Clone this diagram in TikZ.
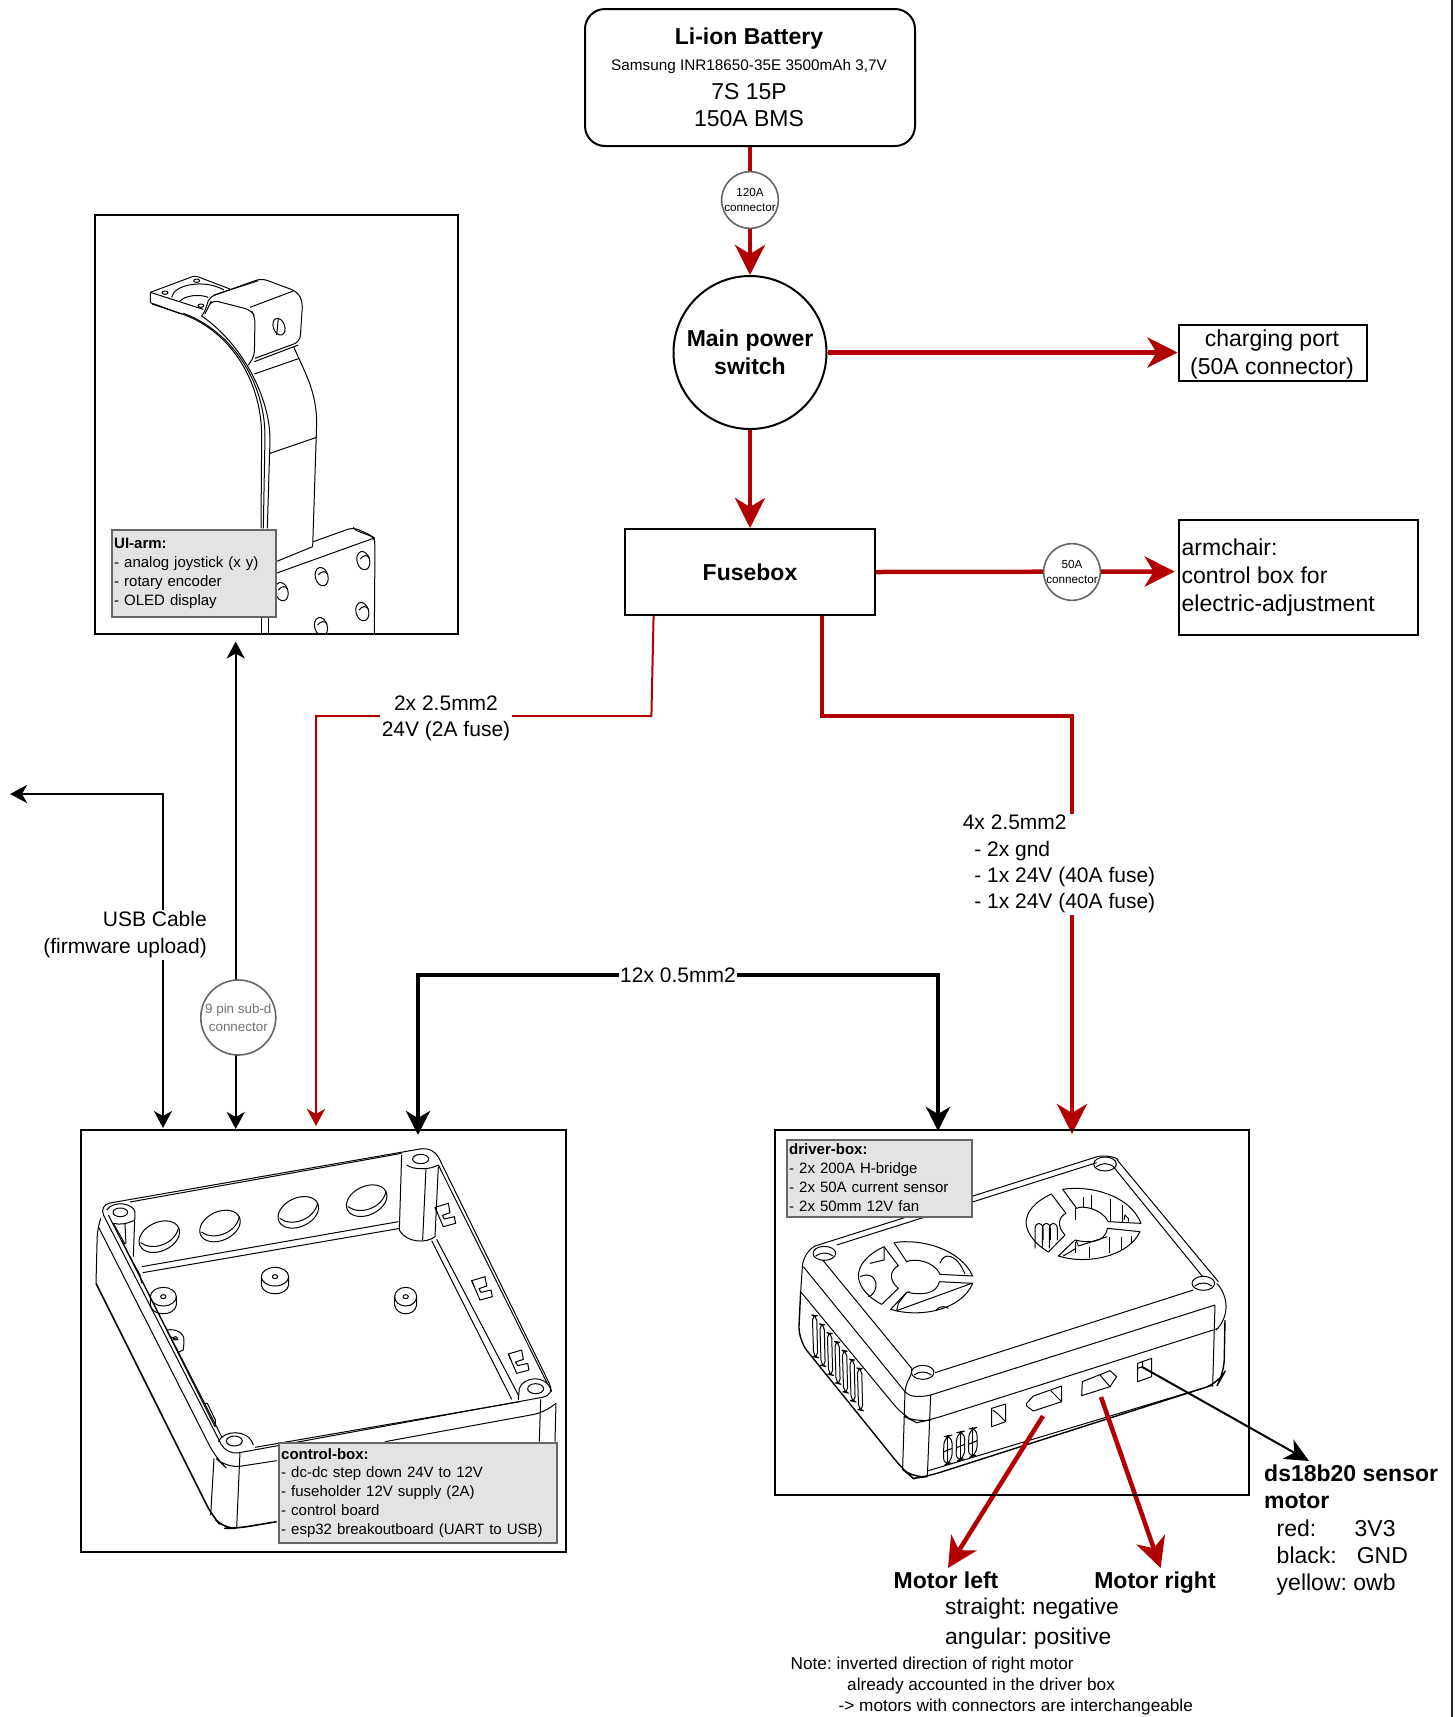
\documentclass[tikz,border=0pt]{standalone}
\usepackage{fontspec}
\setmainfont{Liberation Sans}
\usetikzlibrary{arrows.meta}
\definecolor{cred}{HTML}{B20000}
\definecolor{lbl}{HTML}{E3E3E3}
\definecolor{lbldraw}{HTML}{666666}
\pgfdeclarelayer{art}
\pgfdeclarelayer{conn}
\pgfsetlayers{art,conn,main}
\newcommand{\fsz}[2]{\fontsize{#1pt}{#2pt}\selectfont}
\newcommand{\elli}[5]{\draw[rotate around={#5:(#1,#2)}] (#1,#2) ellipse [x radius=#3,y radius=#4];}
\newcommand{\up}[2]{\raisebox{#1pt}{#2}}
\tikzset{
  boxed/.style={draw=black,line width=2pt,rectangle,inner sep=0pt},
  conncircle/.style={circle,draw=lbldraw,line width=1.6pt,fill=white,inner sep=0pt,align=center},
  graylabel/.style={rectangle,draw=lbldraw,line width=2pt,fill=lbl,anchor=north west,align=left,inner sep=2.5pt,font=\fsz{15}{18.8}},
  wirelabel/.style={fill=white,inner sep=1.5pt,align=center,font=\fsz{21}{26.3}},
  plaintext/.style={inner sep=0pt,align=left,anchor=west},
  redthick/.style={draw=cred,line width=4.5pt,-{Stealth[length=30pt,width=30pt,inset=9pt]}},
  redthin/.style={draw=cred,line width=2pt,-{Stealth[length=17pt,width=18pt,inset=5pt]}},
  blackthin/.style={draw=black,line width=2pt,{Stealth[length=17pt,width=18pt,inset=5pt]}-{Stealth[length=17pt,width=18pt,inset=5pt]}},
  blackthick/.style={draw=black,line width=4.5pt,{Stealth[length=24pt,width=24pt,inset=7pt]}-{Stealth[length=24pt,width=24pt,inset=7pt]}},
  arrowonly/.style={draw=black,line width=2pt,-{Stealth[length=24pt,width=22pt,inset=7pt]}},
  artline/.style={draw=black,line width=1pt,line join=round},
}
\begin{document}
\frenchspacing
\begin{tikzpicture}[x=1pt,y=-1pt]
\useasboundingbox (0,0) rectangle (1455,1717);
\begin{pgfonlayer}{art}
\fill[white] (0,0) rectangle (1455,1717);
\coordinate (edgetop) at (1452,0);
\coordinate (edgebot) at (1452,1717);
\draw[line width=2pt,draw=black!85] (edgetop) -- (edgebot);

%% UI arm art (zoom coordinates)
\begin{scope}
\clip (95,215) rectangle (458,634);
\begin{scope}[shift={(90,210)},x=0.33333pt,y=-0.33333pt,artline,every path/.append style={artline}]
\draw[rounded corners=3pt] (181,247) -- (315,197) -- (420,237);
\draw (181,247) -- (340,298);
\draw (181,247) -- (181,278) -- (270,310);
\draw (186,282) -- (275,312);
\draw (245,262) .. controls (250,225) and (340,205) .. (402,240);
\draw (268,275) .. controls (285,255) and (330,252) .. (355,262);
\elli{225}{248}{9}{5}{0}\elli{320}{212}{9}{5}{0}\elli{333}{287}{9}{5}{0}
\draw (270,310) .. controls (410,355) and (515,500) .. (515,680) -- (513,955);
\draw (280,310) .. controls (420,360) and (525,510) .. (525,680) -- (520,955);
\draw (335,318) .. controls (455,400) and (540,560) .. (540,690) -- (532,955);
\draw[rounded corners=6pt] (335,318) -- (348,300) -- (356,262) -- (515,205) -- (622,245) -- (638,275) -- (630,395) -- (495,445);
\draw[rounded corners=6pt] (345,312) -- (355,290) -- (366,270) -- (483,300) -- (495,320) -- (493,440) -- (475,465);
\draw (480,292) -- (610,243);
\draw (372,255) -- (505,212);
\draw (493,455) -- (625,405);
\draw (493,492) -- (628,445);
\draw (612,412) .. controls (640,480) and (680,540) .. (680,640) -- (668,1010);
\draw (540,730) -- (680,682);
\draw (558,1055) -- (668,1010);
\draw[rounded corners=6pt] (670,995) -- (790,952) -- (852,980) -- (855,1000) -- (853,1272);
\draw (790,952) -- (800,962) -- (852,982);
\draw (558,1090) -- (850,985);
\draw (515,1218) -- (515,1272); \draw (537,1218) -- (537,1272);
\draw[rotate around={20:(567,350)}] (567,350) ellipse [x radius=17,y radius=26];
\draw (565,325) -- (560,375);
\foreach \hx/\hy in {820/1052,695/1100,575/1145,817/1205,693/1250}{
  \elli{\hx}{\hy}{19}{28}{15}
  \draw (\hx-10,\hy-5) .. controls (\hx,\hy-18) and (\hx+12,\hy-18) .. (\hx+18,\hy-8);
}
\end{scope}
\end{scope}

%% control box art
\begin{scope}[shift={(70,1120)},x=0.33333pt,y=-0.33333pt,every path/.append style={artline}]
\draw[rounded corners=12pt] (85,255) -- (1090,80) -- (1455,825) -- (470,1005) -- cycle;
\draw (180,246) -- (995,100);
\draw (1105,135) -- (1432,790);
\draw (555,982) -- (1350,845);
\draw (115,285) -- (455,950);
\draw[rounded corners=8pt] (92,295) -- (82,330) -- (78,490);
\draw[line width=1.6pt,rounded corners=12pt] (78,490) -- (425,1185) -- (460,1225) -- (500,1225) -- (620,1205);
\draw[rounded corners=14pt] (85,320) -- (438,1015) -- (470,1045) -- (620,1022);
\draw[rounded corners=10pt] (945,965) -- (1420,878) -- (1458,850);
\draw (1458,850) -- (1455,965);
\draw (1412,838) -- (1408,965);
\draw (432,1015) -- (422,1185);
\draw (510,996) -- (500,1225);
% corner pillars
\elli{151}{277}{22}{13}{0}
\draw (110,270) .. controls (130,240) and (190,250) .. (195,275) -- (190,410);
\draw (130,310) -- (165,372) ;
\draw (165,312) -- (168,372);
\draw (130,310) .. controls (150,315) and (170,312) .. (195,300);
\elli{1397}{806}{24}{15}{0}
\draw (1345,840) -- (1348,805) .. controls (1360,770) and (1430,760) .. (1445,815);
\elli{493}{963}{24}{15}{0}
\draw (445,965) .. controls (460,930) and (535,925) .. (550,975);
\elli{1052}{117}{24}{14}{0}
\draw (995,105) -- (988,330) .. controls (1010,370) and (1070,370) .. (1095,350) -- (1105,140);
\draw (1068,145) -- (1058,360);
\draw (1010,135) .. controls (1030,150) and (1080,150) .. (1105,135);
% wall/floor
\draw (215,440) -- (985,305);
\draw (218,458) -- (990,325);
\draw (180,410) -- (210,465) -- (215,490);
\draw (1085,362) -- (1325,838);
\draw (1100,358) -- (1345,825);
\draw (155,360) -- (435,920);
\draw (400,850) -- (412,850) -- (436,900) -- (436,920);
% holes
\foreach \hx/\hy in {268/350,450/318,685/277,890/242}{
  \elli{\hx}{\hy}{64}{43}{25}
  \draw (\hx-56,\hy+18) .. controls (\hx-20,\hy+45) and (\hx+48,\hy+22) .. (\hx+58,\hy-28);
}
% standoffs
\foreach \hx/\hy/\hr in {615/470/41,280/530/39,1007/530/33}{
  \draw (\hx-\hr,\hy) -- (\hx-\hr,\hy+25) .. controls (\hx-\hr+5,\hy+60) and (\hx+\hr-5,\hy+60) .. (\hx+\hr,\hy+25) -- (\hx+\hr,\hy);
  \elli{\hx}{\hy}{\hr}{28}{0}
  \elli{\hx}{\hy}{8}{6}{0}
}
\draw (290,630) .. controls (320,625) and (345,640) .. (342,665) -- (340,690) -- (322,698);
\draw (300,650) -- (325,660);
\elli{316}{655}{6}{5}{0}
% clips
\foreach \cx/\cy in {1095/250,1205/470,1315/690}{
  \draw (\cx,\cy+12) -- (\cx+40,\cy) -- (\cx+45,\cy+28) -- (\cx+22,\cy+36) -- (\cx+28,\cy+47) -- (\cx+58,\cy+40) -- (\cx+62,\cy+60) -- (\cx+25,\cy+70) -- cycle;
  \draw (\cx,\cy+12) -- (\cx+8,\cy+30);
}
\end{scope}

%% driver box art
\begin{scope}[shift={(770,1120)},x=0.33333pt,y=-0.33333pt,every path/.append style={artline}]
\draw (135,378) -- (975,112);
\draw (200,375) -- (980,128);
\draw (1040,118) -- (1345,485);
\draw (1030,140) -- (1298,470);
\draw (158,420) -- (425,745);
\draw (100,440) -- (405,815);
\draw (495,758) -- (1270,510);
\draw (482,825) -- (1335,555);
\draw[rounded corners=12pt] (135,378) -- (100,400) -- (92,515) ;
\draw[rounded corners=12pt] (975,112) -- (1010,100) -- (1045,118);
\draw[rounded corners=12pt] (1340,490) -- (1368,520) -- (1368,600) -- (1338,630);
\draw[rounded corners=14pt] (92,515) -- (400,888) -- (440,908) -- (480,900) -- (1345,625);
\draw[line width=1.4pt,rounded corners=14pt] (92,515) -- (85,660) -- (400,1050) -- (430,1075) -- (470,1070) -- (1345,790) -- (1362,760) -- (1365,600);
\draw (475,1052) -- (1330,795);
\draw (405,815) -- (398,1045);
\draw (482,825) -- (472,1070);
\draw (1335,555) -- (1328,800);
\draw (405,815) .. controls (410,775) and (430,765) .. (425,745);
\draw (405,815) .. controls (420,835) and (460,830) .. (482,825);
\foreach \hx/\hy in {163/400,1005/132,1300/490,458/757}{
  \elli{\hx}{\hy}{34}{21}{0}
  \draw (\hx-26,\hy+8) .. controls (\hx-10,\hy-4) and (\hx+10,\hy-4) .. (\hx+26,\hy+8);
}
% fan 1
\draw (342,380) .. controls (290,405) and (265,435) .. (265,470) .. controls (268,505) and (300,535) .. (335,553) -- (385,505) .. controls (355,480) and (360,450) .. (385,437) -- cycle;
\draw (372,368) .. controls (450,355) and (570,385) .. (608,468) -- (510,463) .. controls (490,420) and (430,415) .. (410,425) -- cycle;
\draw (508,485) -- (608,490) .. controls (575,570) and (450,595) .. (362,568) -- (410,517) .. controls (450,525) and (500,525) .. (508,485);
\draw (300,430) -- (342,420) -- (342,380);
\draw (270,470) .. controls (300,455) and (320,475) .. (318,500) .. controls (315,520) and (300,530) .. (295,530);
\draw (510,430) .. controls (520,395) and (560,400) .. (585,462);
\draw (380,572) -- (605,490);
\draw (420,515) -- (410,517) -- (385,550) -- (380,572);
\draw (498,570) .. controls (510,555) and (530,560) .. (535,565);
% fan 2
\draw (844,222) .. controls (795,245) and (768,275) .. (768,310) .. controls (772,345) and (800,375) .. (835,396) -- (885,345) .. controls (860,320) and (865,290) .. (888,280) -- cycle;
\draw (878,208) .. controls (960,195) and (1080,225) .. (1113,310) -- (1015,305) .. controls (995,265) and (935,255) .. (920,265) -- cycle;
\draw (1012,325) -- (1110,335) .. controls (1075,410) and (950,435) .. (865,408) -- (915,360) .. controls (955,370) and (1005,370) .. (1012,325);
\foreach \sx in {795,817,838}{\draw (\sx,385) -- (\sx,325) .. controls (\sx+2,305) and (\sx+22,305) .. (\sx+24,325) -- (\sx+24,360);}
\foreach \sx/\st/\sb in {915/265/300,940/232/265,965/225/265,1022/238/305,1058/255/305}{\draw (\sx,\st) -- (\sx,\sb);}
\foreach \sx/\st/\sb in {915/365/400,958/380/415,1018/350/400,1055/350/390,1085/348/370}{\draw (\sx,\st) -- (\sx,\sb);}
\draw (918,360) -- (925,378) -- (1012,350);
\draw (880,408) -- (918,385);
\draw (1062,300) -- (1065,285) -- (1075,295) -- (1075,305);
% side slits
\foreach \i in {0,...,6}{
  \pgfmathsetmacro{\sa}{127+22.5*\i}
  \pgfmathsetmacro{\sb}{585+26.5*\i}
  \draw[rounded corners=5pt] (\sa,\sb) -- (\sa+13,\sb+2) -- (\sa+16,\sb+128) -- (\sa+4,\sb+125) -- cycle;
}
% front slits
\foreach \sa/\sb in {520/945,558/933,595/922}{
  \draw[rounded corners=8pt] (\sa+2,\sb+5) -- (\sa+26,\sb) -- (\sa+26,\sb+82) -- (\sa,\sb+92) -- cycle;
  \draw (\sa+2,\sb+50) -- (\sa+26,\sb+40);
  \draw (\sa+13,\sb) -- (\sa+13,\sb+85);
}
% ports
\draw (665,865) -- (707,852) -- (707,905) -- (665,920) -- cycle;
\draw (668,870) -- (682,880) -- (707,905);
\draw (770,850) -- (790,828) -- (875,798) -- (875,845) -- (790,873) -- (770,858) -- cycle;
\draw (842,812) -- (875,845);
\draw (937,785) -- (1020,752) -- (1040,770) -- (1020,800) -- (935,827) -- cycle;
\draw (990,765) -- (1020,800);
\draw (1103,730) -- (1145,715) -- (1145,770) -- (1103,785) -- cycle;
\draw (1103,745) -- (1118,740) -- (1118,725);
\end{scope}
\end{pgfonlayer}

%% nodes
\node[boxed,rounded corners=20pt,fill=white,minimum width=330pt,minimum height=137pt] (battery) at (750,77.5) {};
\node[inner sep=0pt,align=center,font=\fsz{23}{27.3}] (batterytext) at (749,77.6) {\textbf{Li-ion Battery}\\[-1.9pt]
  {\fsz{15.3}{19}Samsung INR18650-35E 3500mAh 3,7V}\\[1.7pt]
  7S 15P\\150A BMS};
\node[conncircle,minimum size=56pt,font=\fsz{11.7}{15}] (c120) at (750,200) {\up{1}{120A}\\\up{1}{connector}};
\node[circle,draw=black,line width=2pt,fill=white,minimum size=153pt,inner sep=0pt,align=center,font=\fsz{23}{28.5}\bfseries] (switch) at (750,352.5) {Main power\\switch};
\node[boxed,minimum width=188pt,minimum height=56pt] (charge) at (1272.5,353) {};
\node[inner sep=0pt,align=center,font=\fsz{23}{28.5}] (chargetext) at (1272,354.5) {charging port\\(50A connector)};
\node[boxed,fill=white,minimum width=250pt,minimum height=86pt,font=\fsz{23}{27}\bfseries] (fuse) at (750,572) {Fusebox};
\node[conncircle,minimum size=56pt,font=\fsz{11.7}{15}] (c50) at (1072,572) {\up{1}{50A}\\\up{1}{connector}};
\node[boxed,minimum width=239pt,minimum height=115pt] (armchair) at (1298.5,577) {};
\node[plaintext,anchor=west,font=\fsz{23}{28}] (armchairtext) at (1181.5,577.5) {armchair:\\control box for\\electric-adjustment};
\node[boxed,minimum width=363pt,minimum height=419pt] (uibox) at (276.5,424.5) {};
\node[boxed,minimum width=485pt,minimum height=422pt] (ctrl) at (323.5,1341) {};
\node[boxed,minimum width=474pt,minimum height=365pt] (driver) at (1012,1312.5) {};

\node[graylabel,minimum width=164pt,minimum height=87pt,text width=159pt] (uilabel) at (110.7,529) {\textbf{UI-arm:}\\- analog joystick (x y)\\- rotary encoder\\- OLED display};
\node[graylabel,minimum width=278pt,minimum height=99.5pt,text width=273pt] (ctrllabel) at (277.7,1442) {\textbf{control-box:}\\- dc-dc step down 24V to 12V\\- fuseholder 12V supply (2A)\\- control board\\- esp32 breakoutboard (UART to USB)};
\node[graylabel,minimum width=185pt,minimum height=77pt,text width=180pt] (driverlabel) at (785.7,1139) {\up{2}{\textbf{driver-box:}}\\\up{2}{- 2x 200A H-bridge}\\\up{2}{- 2x 50A current sensor}\\\up{2}{- 2x 50mm 12V fan}};

\node[conncircle,draw=lbldraw,text=black!55,minimum size=75pt,font=\fsz{13.4}{18}] (c9pin) at (238.3,1017.5) {9 pin sub-d\\connector};

\node[wirelabel,anchor=east,align=right,font=\fsz{21}{27}] (usblabel) at (208.5,935) {USB Cable\\(firmware upload)};
\node[wirelabel] (l25) at (446,718.5) {2x 2.5mm2\\24V (2A fuse)};
\node[wirelabel,align=left] (l4x) at (1059,864.2) {4x 2.5mm2\\\hspace*{11.5pt}- 2x gnd\\\hspace*{11.5pt}- 1x 24V (40A fuse)\\\hspace*{11.5pt}- 1x 24V (40A fuse)};
\node[wirelabel] (l12) at (678,975.5) {12x 0.5mm2};

\node[plaintext,anchor=north west,font=\fsz{23}{27.4}] (sensor) at (1264,1464.5) {\textbf{ds18b20 sensor}\\\textbf{motor}\\\hspace*{12.5pt}red:\hspace{38.3pt}3V3\\\hspace*{12.5pt}black:\hspace{20pt}GND\\\hspace*{12.5pt}yellow: owb};
\node[inner sep=0pt,font=\fsz{23}{27}\bfseries,anchor=base] (mleft) at (946,1588) {Motor left};
\node[inner sep=0pt,font=\fsz{23}{27}\bfseries,anchor=base] (mright) at (1155,1588) {Motor right};
\node[plaintext,anchor=north west,font=\fsz{22.8}{30}] (polarity) at (945,1597.5) {straight: negative\\angular: positive};
\node[plaintext,anchor=north west,font=\fsz{17.2}{21}] (note) at (790.5,1656.4) {Note: inverted direction of right motor\\\hspace*{56.5pt}already accounted in the driver box\\\hspace*{48pt}-> motors with connectors are interchangeable};

%% free ends of connectors
\coordinate (usbend) at (10,794);
\coordinate (usbcorner) at (163,794);
\coordinate (usbctrl) at (163,1128);
\coordinate (uitop) at (235.7,641.5);
\coordinate (uictrl) at (235.7,1129);
\coordinate (ptstart) at (653.6,615);
\coordinate (ptbend) at (651.4,716);
\coordinate (ptleft) at (316,716);
\coordinate (ptend) at (316,1126);
\coordinate (pwstart) at (822.2,616);
\coordinate (pwbend) at (822.2,716);
\coordinate (pwright) at (1072,716);
\coordinate (pwend) at (1072,1134);
\coordinate (b12l) at (418,1135);
\coordinate (b12c1) at (418,975);
\coordinate (b12c2) at (938,975);
\coordinate (b12r) at (938,1131);
\coordinate (mlstart) at (1043,1416);
\coordinate (mlend) at (948,1568);
\coordinate (mrstart) at (1101,1397);
\coordinate (mrend) at (1160.6,1568);
\coordinate (ssstart) at (1141.7,1366.7);
\coordinate (ssend) at (1309,1461);
\coordinate (armtip) at (1174.7,571.5);

\begin{pgfonlayer}{conn}
\draw[redthick,-] (battery.south) -- (c120);
\draw[redthick] (c120) -- (switch.north);
\draw[redthick] (switch.south) -- (fuse.north);
\draw[redthick] (switch.east) -- (switch.east -| charge.west);
\draw[redthick] (fuse.east) -- (armtip);
\draw[redthick] (pwstart) -- (pwbend) -- (pwright) -- (pwend);
\draw[redthin] (ptstart) -- (ptbend) -- (ptleft) -- (ptend);
\draw[blackthin] (usbend) -- (usbcorner) -- (usbctrl);
\draw[blackthin] (uitop) -- (uictrl);
\draw[blackthick] (b12l) -- (b12c1) -- (b12c2) -- (b12r);
\draw[redthick] (mlstart) -- (mlend);
\draw[redthick] (mrstart) -- (mrend);
\draw[arrowonly] (ssstart) -- (ssend);
\end{pgfonlayer}
\end{tikzpicture}
\end{document}
